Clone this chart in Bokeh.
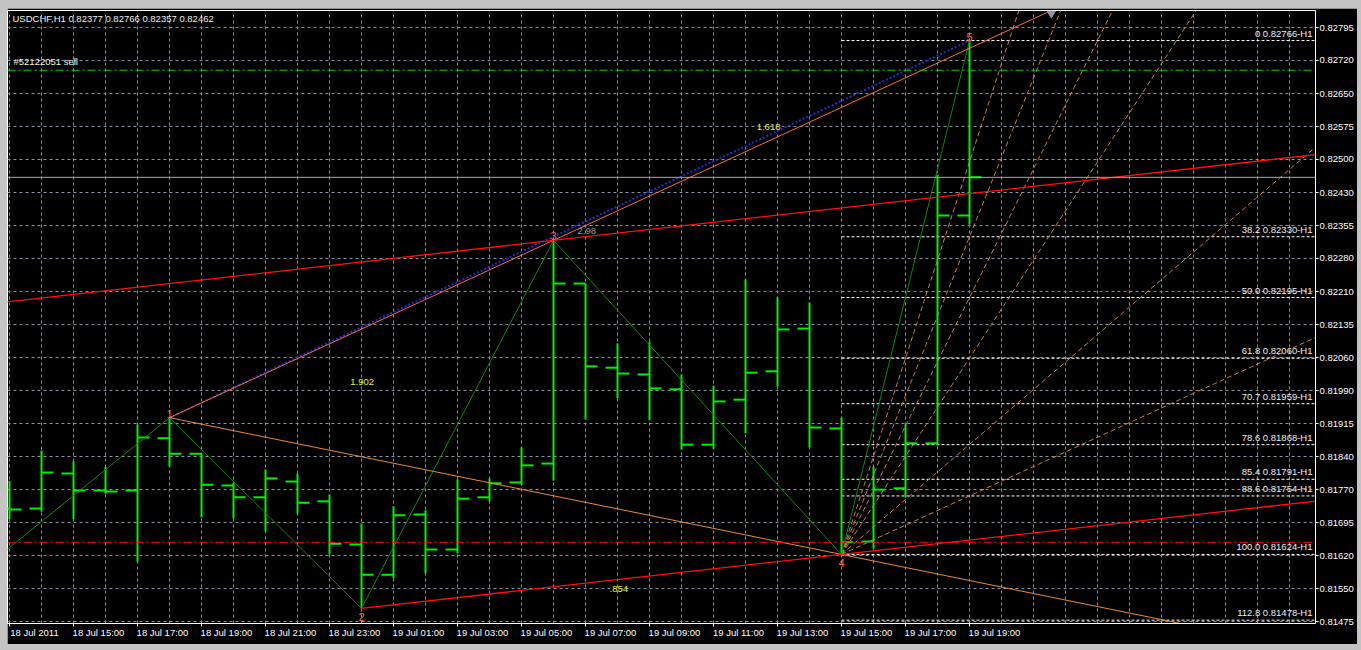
from bokeh.plotting import figure
from bokeh.layouts import column
from bokeh.models import FixedTicker, Label, Range1d, Span, LinearAxis
from bokeh.embed import file_html
from bokeh.resources import INLINE
from bokeh.core.properties import value

# ---------------- data ----------------
SYMBOL = "USDCHF,H1"
# hourly bars, first bar = 18 Jul 2011 13:00
opens  = [0.81726, 0.81726, 0.81804, 0.81766, 0.81766, 0.81882, 0.81848, 0.81777, 0.81751, 0.81786,
          0.81742, 0.81646, 0.81579, 0.81713, 0.81635, 0.81751, 0.81784, 0.81826, 0.82226, 0.82039,
          0.82024, 0.81991, 0.81868, 0.81968, 0.82031, 0.82126, 0.81904, 0.81653, 0.81771, 0.81871,
          0.82377]
highs  = [0.81788, 0.81855, 0.81831, 0.81819, 0.81913, 0.81928, 0.81848, 0.81784, 0.81813, 0.81804,
          0.81757, 0.81693, 0.81731, 0.81722, 0.81791, 0.81793, 0.81862, 0.82322, 0.82226, 0.82093,
          0.82097, 0.82024, 0.81999, 0.82235, 0.82195, 0.82184, 0.81928, 0.81819, 0.81913, 0.82468,
          0.82766]
lows   = [0.81702, 0.81719, 0.81702, 0.81759, 0.81608, 0.81819, 0.81706, 0.81704, 0.81675, 0.81715,
          0.81624, 0.81504, 0.81571, 0.81582, 0.81626, 0.81742, 0.81779, 0.81788, 0.81924, 0.81971,
          0.81922, 0.81857, 0.81859, 0.81893, 0.81997, 0.81862, 0.81624, 0.81637, 0.81751, 0.81866,
          0.82357]
closes = [0.81724, 0.81806, 0.81766, 0.81764, 0.81884, 0.81848, 0.81779, 0.81751, 0.81793, 0.81739,
          0.81648, 0.81579, 0.81711, 0.81635, 0.81748, 0.81782, 0.81822, 0.82226, 0.82042, 0.82026,
          0.81993, 0.81868, 0.81964, 0.82028, 0.82124, 0.81906, 0.81651, 0.81768, 0.81871, 0.82377,
          0.82462]

time_labels = ["18 Jul 2011", "18 Jul 15:00", "18 Jul 17:00", "18 Jul 19:00", "18 Jul 21:00",
               "18 Jul 23:00", "19 Jul 01:00", "19 Jul 03:00", "19 Jul 05:00", "19 Jul 07:00",
               "19 Jul 09:00", "19 Jul 11:00", "19 Jul 13:00", "19 Jul 15:00", "19 Jul 17:00",
               "19 Jul 19:00"]

price_tick_labels = ["0.82795", "0.82720", "0.82650", "0.82575", "0.82500", "0.82430", "0.82355",
                     "0.82280", "0.82210", "0.82135", "0.82060", "0.81990", "0.81915", "0.81840",
                     "0.81770", "0.81695", "0.81620", "0.81550", "0.81475"]
PRICE_TICK_TOP = 0.82795
PRICE_TICK_BOTTOM = 0.81475

# wave pivots (bar index, price); first one lies before the visible window
pivot_x = [-3, 5, 11, 17, 26, 30]
pivot_y = [0.81466, 0.81928, 0.81504, 0.82322, 0.81624, 0.82766]
pivot_names = ["", "1", "2", "3", "4", "5"]

fib_levels = [0.0, 38.2, 50.0, 61.8, 70.7, 78.6, 85.4, 88.6, 100.0, 112.8]
fib_prices = [0.82766, 0.82330, 0.82195, 0.82060, 0.81959, 0.81868, 0.81791, 0.81754, 0.81624, 0.81478]
fib_texts = ["0 0.82766-H1", "38.2 0.82330-H1", "50.0 0.82195-H1", "61.8 0.82060-H1",
             "70.7 0.81959-H1", "78.6 0.81868-H1", "85.4 0.81791-H1", "88.6 0.81754-H1",
             "100.0 0.81624-H1", "112.8 0.81478-H1"]
fan_levels = [23.6, 38.2, 50.0, 61.8, 78.6, 88.6]

order_label = "#52122051 sell"
order_price = 0.82700
stop_price = 0.81651

# ---------------- layout ----------------
AX_RIGHT = 42
AX_BOTTOM = 21
FRAME_W, FRAME_H = 1308, 613
FIG_W = FRAME_W + AX_RIGHT
FIG_H = FRAME_H + 2 + AX_BOTTOM
BAR_PX = 32.0
PRICE_PX = 45000.0
X0 = -2 / BAR_PX
X1 = X0 + FRAME_W / BAR_PX
Y0 = PRICE_TICK_BOTTOM - 2 / PRICE_PX
Y1 = Y0 + FRAME_H / PRICE_PX
PX = 1 / BAR_PX
PY = 1 / PRICE_PX
LABEL_SHIFT = 25 * PX  # time labels start at their tick (MetaTrader style)

FONT = "Liberation Sans"
FS = "9.5px"
BAR = "#00F000"
GRID = "#8a96a6"

p = figure(width=FIG_W, height=FIG_H, x_range=Range1d(X0, X1), y_range=Range1d(Y0, Y1),
           output_backend="svg", toolbar_location=None, y_axis_location="right",
           background_fill_color="black", border_fill_color="black",
           min_border=0, min_border_left=0, min_border_right=AX_RIGHT, min_border_top=2,
           min_border_bottom=AX_BOTTOM, margin=(8, 0, 0, 7), sizing_mode="fixed")
p.outline_line_color = "white"
p.outline_line_width = 1
p.extra_x_ranges = {"labels": Range1d(X0 - LABEL_SHIFT, X1 - LABEL_SHIFT)}

# axes
n_bars = len(opens)
xt = list(range(0, n_bars, 2))
p.xaxis.ticker = FixedTicker(ticks=xt)
p.xaxis.major_label_overrides = {t: "" for t in xt}
step = (PRICE_TICK_TOP - PRICE_TICK_BOTTOM) / (len(price_tick_labels) - 1)
yt = [round(PRICE_TICK_TOP - k * step, 9) for k in range(len(price_tick_labels))]
p.yaxis.ticker = FixedTicker(ticks=yt)
p.yaxis.major_label_overrides = {t: lab for t, lab in zip(yt, price_tick_labels)}
for ax in (p.xaxis[0], p.yaxis[0]):
    ax.axis_line_color = "white"
    ax.major_tick_line_color = "white"
    ax.major_tick_in = 0
    ax.major_tick_out = 3
    ax.minor_tick_line_color = None
    ax.major_label_text_color = "white"
    ax.major_label_text_font = FONT
    ax.major_label_text_font_size = FS
    ax.major_label_standoff = 1
p.xaxis.major_label_text_font_size = "1px"
p.xaxis.major_label_standoff = 0

time_axis = LinearAxis(x_range_name="labels", ticker=FixedTicker(ticks=xt),
                       major_label_overrides={t: lab for t, lab in zip(xt, time_labels)},
                       axis_line_color=None, major_tick_line_color=None, minor_tick_line_color=None,
                       major_tick_in=0, major_tick_out=0, major_label_standoff=0,
                       major_label_text_color="white", major_label_text_font=FONT,
                       major_label_text_font_size=FS)
p.add_layout(time_axis, "below")

p.xgrid.ticker = FixedTicker(ticks=list(range(-2, 45)))
p.ygrid.ticker = FixedTicker(ticks=yt)
for g in (p.xgrid[0], p.ygrid[0]):
    g.grid_line_color = GRID
    g.grid_line_dash = "3 3"
    g.grid_line_width = 1

# fibo retracement lines (from point 4 to the right)
FAR = 80
p.segment(x0=[pivot_x[4]] * len(fib_prices), y0=fib_prices, x1=[FAR] * len(fib_prices), y1=fib_prices,
          line_color="white", line_width=1, line_dash="3 2")
p.text(x=[X0 + (FRAME_W - 3) * PX] * len(fib_prices), y=[v + 2 * PY for v in fib_prices], text=fib_texts,
       text_align="right", text_baseline="bottom", text_color="#f0f0f0",
       text_font=value(FONT), text_font_size=FS)

# fan from point 4
x4, y4 = pivot_x[4], pivot_y[4]
x5, y5 = pivot_x[5], pivot_y[5]
fx1, fy1 = [], []
for lv in fan_levels:
    ty = y5 - lv / 100 * (y5 - y4)
    s = (ty - y4) / (x5 - x4)
    fx1.append(FAR)
    fy1.append(y4 + s * (FAR - x4))
p.segment(x0=[x4] * len(fan_levels), y0=[y4] * len(fan_levels), x1=fx1, y1=fy1,
          line_color="#c87a55", line_width=1, line_dash="5 3")

# bars
idx = list(range(n_bars))
TICK = 12 * PX
p.segment(x0=idx, y0=lows, x1=idx, y1=highs, line_color=BAR, line_width=2)
p.segment(x0=[i - TICK for i in idx], y0=opens, x1=idx, y1=opens, line_color=BAR, line_width=2)
p.segment(x0=idx, y0=closes, x1=[i + TICK for i in idx], y1=closes, line_color=BAR, line_width=2)

# zigzag
p.line(pivot_x, pivot_y, line_color="#0a8a0a", line_width=1)

x1p, y1p = pivot_x[1], pivot_y[1]
x2p, y2p = pivot_x[2], pivot_y[2]
x3p, y3p = pivot_x[3], pivot_y[3]

# blue dotted 1 -> 5
p.line([x1p, x5], [y1p, y5], line_color="#2a2ad0", line_width=2, line_dash="2 2")
# 1 -> 3 extended to top
s13 = (y3p - y1p) / (x3p - x1p)
xtop = x3p + (Y1 - y3p) / s13
p.line([x1p, xtop], [y1p, Y1], line_color="#ff6a4a", line_width=1)
p.scatter([xtop], [Y1 - 3 * PY], marker="inverted_triangle", size=8, color="#9098a8")
# 1 -> 4 extended
s14 = (y4 - y1p) / (x4 - x1p)
p.line([x1p, FAR], [y1p, y1p + s14 * (FAR - x1p)], line_color="#e88a3c", line_width=1)
# 2 -> 4 extended, and parallel through 3
s24 = (y4 - y2p) / (x4 - x2p)
p.line([x2p, FAR], [y2p, y2p + s24 * (FAR - x2p)], line_color="#ff1010", line_width=1.3)
p.line([-5, FAR], [y3p + s24 * (-5 - x3p), y3p + s24 * (FAR - x3p)], line_color="#ff1010", line_width=1.3)

# pivot labels
up = [1, 3, 5]
p.text(x=[pivot_x[i] for i in up], y=[pivot_y[i] + 4 * PY for i in up], text=[pivot_names[i] for i in up],
       text_align="center", text_baseline="middle", text_color="#ff6060",
       text_font=value(FONT), text_font_size="11px")
dn = [2, 4]
p.text(x=[pivot_x[i] for i in dn], y=[pivot_y[i] - 5 * PY for i in dn], text=[pivot_names[i] for i in dn],
       text_align="center", text_baseline="top", text_color="#ff6060",
       text_font=value(FONT), text_font_size="11px")

# ratio labels
p.text(x=[10.65, 23.35, 18.75], y=[0.82007, 0.82575, 0.81547], text=["1.902", "1.618", ".854"],
       text_align="left", text_baseline="middle", text_color="#e6f040",
       text_font=value(FONT), text_font_size=FS)
p.text(x=[17.75], y=[0.82342], text=["2.98"], text_align="left", text_baseline="middle",
       text_color="#9a9a9a", text_font=value(FONT), text_font_size=FS)

# order / stop / bid lines
p.add_layout(Span(location=order_price, dimension="width", line_color="#00d000", line_width=1,
                  line_dash="8 3 2 3"))
p.add_layout(Span(location=stop_price, dimension="width", line_color="#ff1010", line_width=1,
                  line_dash="8 3 2 3"))
p.add_layout(Span(location=closes[-1], dimension="width", line_color="#a8a8a8", line_width=1))

p.add_layout(Label(x=X0 + 6 * PX, y=order_price + 3 * PY, text=order_label, text_baseline="bottom",
                   text_color="#f0f0f0", text_font=FONT, text_font_size=FS))
header = "%s  %.5f %.5f %.5f %.5f" % (SYMBOL, opens[-1], highs[-1], lows[-1], closes[-1])
p.add_layout(Label(x=X0 + 5 * PX, y=Y1 - 2 * PY, text=header, text_baseline="top",
                   text_color="#f0f0f0", text_font=FONT, text_font_size=FS))
p.add_layout(Label(x=X1, y=closes[-1], x_offset=2, text="%.5f" % closes[-1], text_baseline="middle",
                   text_align="left", text_color="black", text_font=FONT, text_font_size=FS,
                   background_fill_color="white"))

page = column(p, width=1361, height=650, sizing_mode="fixed",
              styles={"background-color": "#c4c4c4", "overflow": "hidden"})

open("out.html", "w").write(file_html(page, INLINE))
